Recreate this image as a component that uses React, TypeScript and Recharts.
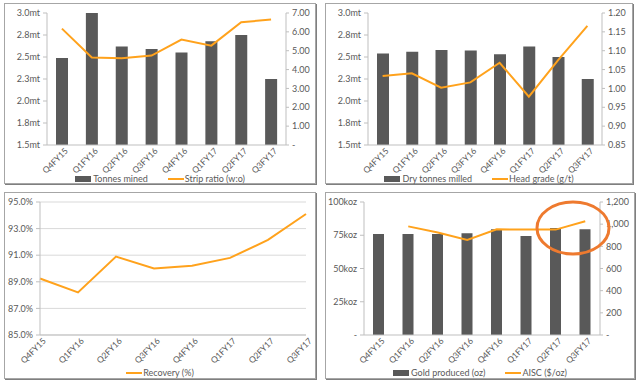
import {
  Bar,
  CartesianGrid,
  ComposedChart,
  Line,
  XAxis,
  YAxis,
} from "recharts";

// Four-panel operating summary: mining, milling, recovery, production vs AISC.

const categories = ["Q4FY15", "Q1FY16", "Q2FY16", "Q3FY16", "Q4FY16", "Q1FY17", "Q2FY17", "Q3FY17"];

const tonnesMined = [2.49, 3.0, 2.62, 2.59, 2.55, 2.68, 2.75, 2.25];
const stripRatio = [6.17, 4.64, 4.6, 4.74, 5.59, 5.27, 6.51, 6.65];

const dryTonnesMilled = [2.54, 2.56, 2.58, 2.575, 2.53, 2.62, 2.5, 2.25];
const headGrade = [1.033, 1.04, 1.002, 1.016, 1.068, 0.978, 1.075, 1.166];

const recovery = [89.25, 88.2, 90.9, 90.0, 90.2, 90.8, 92.15, 94.1];

const goldProduced = [76, 76, 76, 76.5, 79.5, 74.5, 80.5, 79.5];
const aisc = [null, 980, 925, 858, 954, 951, 951, 1026];

const tonneTicks = [1.5, 1.75, 2.0, 2.25, 2.5, 2.75, 3.0];
const stripTicks = [0, 1, 2, 3, 4, 5, 6, 7];
const gradeTicks = [0.85, 0.9, 0.95, 1.0, 1.05, 1.1, 1.15, 1.2];
const recoveryTicks = [85, 87, 89, 91, 93, 95];
const ozTicks = [0, 25, 50, 75, 100];
const aiscTicks = [0, 200, 400, 600, 800, 1000, 1200];

const mining = categories.map((q, i) => ({ q, mined: tonnesMined[i], strip: stripRatio[i] }));
const milling = categories.map((q, i) => ({ q, milled: dryTonnesMilled[i], grade: headGrade[i] }));
const recoveryData = categories.map((q, i) => ({ q, rec: recovery[i] }));
const production = categories.map((q, i) => ({ q, gold: goldProduced[i], aisc: aisc[i] }));

const FONT = "Lato, 'Liberation Sans', Arial, sans-serif";
const TEXT = "#595959";
const AXIS = "#bfbfbf";
const BAR = "#595959";
const ORANGE = "#ffa21c";
const TICK = { fill: TEXT, fontSize: 9, fontFamily: FONT };

function AngleTick(props: any) {
  const { x, y, payload } = props;
  const ax = x + 3;
  const ay = y + 1;
  return (
    <text
      x={ax}
      y={ay}
      dy="0.6em"
      transform={`rotate(-45 ${ax} ${ay})`}
      textAnchor="end"
      fill={TEXT}
      fontSize={8.5}
      fontFamily={FONT}
    >
      {payload.value}
    </text>
  );
}

const fmtMt = (v: number) => `${v.toFixed(1)}mt`;
const fmtDash2 = (v: number) => (v === 0 ? "-" : v.toFixed(2));
const fmt2 = (v: number) => v.toFixed(2);
const fmtPct = (v: number) => `${v.toFixed(1)}%`;
const fmtKoz = (v: number) => (v === 0 ? "-" : `${v}koz`);
const fmtUsd = (v: number) => (v === 0 ? "-" : v.toLocaleString("en-US"));

function Legend2({ bar, line, top }: { bar?: string; line: string; top: number }) {
  return (
    <div
      style={{
        position: "absolute",
        left: 0,
        right: 0,
        top,
        display: "flex",
        justifyContent: "center",
        alignItems: "center",
        fontFamily: FONT,
        fontSize: 9,
        color: TEXT,
        whiteSpace: "nowrap",
      }}
    >
      {bar && (
        <>
          <span style={{ width: 16, height: 6, background: BAR, marginRight: 2 }} />
          <span style={{ marginRight: 20 }}>{bar}</span>
        </>
      )}
      <span style={{ width: 16, height: 2, background: ORANGE, marginRight: 1 }} />
      <span>{line}</span>
    </div>
  );
}

function Box({ left, top, width, height, children }: any) {
  return (
    <div
      style={{
        position: "absolute",
        left,
        top,
        width,
        height,
        boxSizing: "border-box",
        border: "1px solid #a6a6a6",
        boxShadow: "1px 1px 0 #7f7f7f",
        background: "#fff",
      }}
    >
      {children}
    </div>
  );
}

export default function App() {
  return (
    <div
      style={{
        position: "fixed",
        left: 0,
        top: 0,
        width: 640,
        height: 381,
        background: "#fff",
        overflow: "hidden",
      }}
    >
      <Box left={4} top={3} width={312} height={181}>
        <ComposedChart width={310} height={179} data={mining} margin={{ top: 9, right: 0, bottom: 0, left: 0 }}>
          <XAxis dataKey="q" stroke={AXIS} tickLine={false} tickSize={0} tick={<AngleTick />} height={38} interval={0} />
          <YAxis yAxisId="l" domain={[1.5, 3]} ticks={tonneTicks} tickFormatter={fmtMt} width={42} stroke={AXIS} tick={TICK} tickSize={4} tickMargin={3} />
          <YAxis yAxisId="r" orientation="right" domain={[0, 7]} ticks={stripTicks} tickFormatter={fmtDash2} width={29} stroke={AXIS} tick={TICK} tickSize={3} tickMargin={3} />
          <Bar yAxisId="l" dataKey="mined" fill={BAR} barSize={12} isAnimationActive={false} />
          <Line yAxisId="r" dataKey="strip" type="linear" stroke={ORANGE} strokeWidth={2} dot={false} isAnimationActive={false} />
        </ComposedChart>
        <Legend2 bar="Tonnes mined" line="Strip ratio (w:o)" top={169} />
      </Box>

      <Box left={325} top={3} width={308} height={181}>
        <ComposedChart width={306} height={179} data={milling} margin={{ top: 9, right: 0, bottom: 0, left: 0 }}>
          <XAxis dataKey="q" stroke={AXIS} tickLine={false} tickSize={0} tick={<AngleTick />} height={38} interval={0} />
          <YAxis yAxisId="l" domain={[1.5, 3]} ticks={tonneTicks} tickFormatter={fmtMt} width={42} stroke={AXIS} tick={TICK} tickSize={4} tickMargin={3} />
          <YAxis yAxisId="r" orientation="right" domain={[0.85, 1.2]} ticks={gradeTicks} tickFormatter={fmt2} width={30} stroke={AXIS} tick={TICK} tickSize={3} tickMargin={3} />
          <Bar yAxisId="l" dataKey="milled" fill={BAR} barSize={12} isAnimationActive={false} />
          <Line yAxisId="r" dataKey="grade" type="linear" stroke={ORANGE} strokeWidth={2} dot={false} isAnimationActive={false} />
        </ComposedChart>
        <Legend2 bar="Dry tonnes milled" line="Head grade (g/t)" top={169} />
      </Box>

      <Box left={4} top={192} width={312} height={187}>
        <ComposedChart width={310} height={185} data={recoveryData} margin={{ top: 9, right: 9, bottom: 0, left: 0 }}>
          <CartesianGrid vertical={false} stroke="#d9d9d9" />
          <XAxis dataKey="q" stroke={AXIS} tickLine={false} tickSize={0} tick={<AngleTick />} height={43} interval={0} />
          <YAxis domain={[85, 95]} ticks={recoveryTicks} tickFormatter={fmtPct} width={35} stroke={AXIS} tick={TICK} tickSize={4} tickMargin={3} />
          <Line dataKey="rec" type="linear" stroke={ORANGE} strokeWidth={2} dot={false} isAnimationActive={false} />
        </ComposedChart>
        <Legend2 line="Recovery (%)" top={174} />
      </Box>

      <Box left={325} top={192} width={310} height={187}>
        <ComposedChart width={308} height={185} data={production} margin={{ top: 9, right: 0, bottom: 0, left: 0 }}>
          <XAxis dataKey="q" stroke={AXIS} tickLine={false} tickSize={0} tick={<AngleTick />} height={43} interval={0} />
          <YAxis yAxisId="l" domain={[0, 100]} ticks={ozTicks} tickFormatter={fmtKoz} width={38} stroke={AXIS} tick={TICK} tickSize={4} tickMargin={3} />
          <YAxis yAxisId="r" orientation="right" domain={[0, 1200]} ticks={aiscTicks} tickFormatter={fmtUsd} width={34} stroke={AXIS} tick={TICK} tickSize={3} tickMargin={3} />
          <Bar yAxisId="l" dataKey="gold" fill={BAR} barSize={11} isAnimationActive={false} />
          <Line yAxisId="r" dataKey="aisc" type="linear" stroke={ORANGE} strokeWidth={2} dot={false} isAnimationActive={false} />
        </ComposedChart>
        <Legend2 bar="Gold produced (oz)" line="AISC ($/oz)" top={174} />
        <svg width={310} height={187} style={{ position: "absolute", left: 0, top: 0, pointerEvents: "none" }}>
          <ellipse cx={247} cy={35} rx={36} ry={26} fill="none" stroke="#ee7a2f" strokeWidth={3} />
        </svg>
      </Box>
    </div>
  );
}
